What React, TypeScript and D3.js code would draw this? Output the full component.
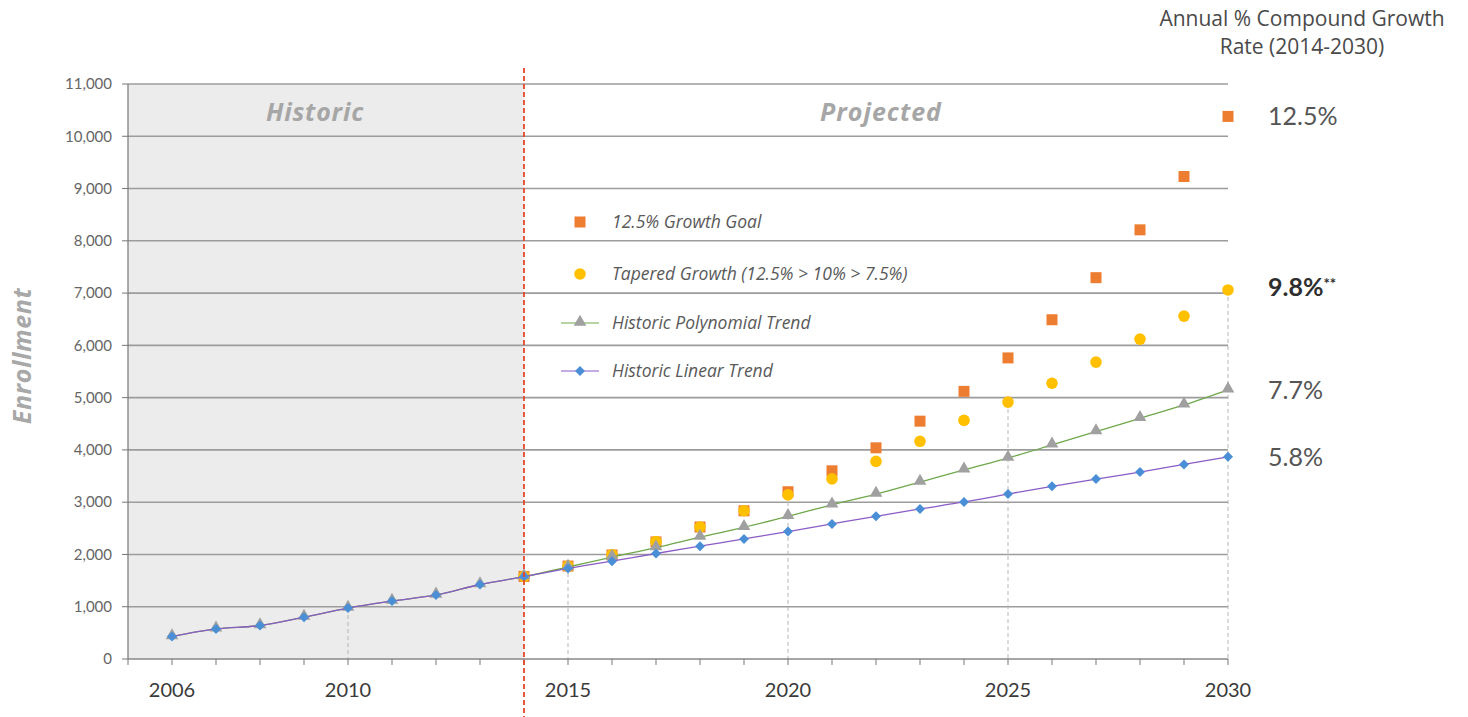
import React from 'react';
import * as d3 from 'd3';

// Historic enrollment (shared by both trend series)
const historicYears = [2006, 2007, 2008, 2009, 2010, 2011, 2012, 2013, 2014];
const historicValues = [430, 576, 640, 800, 975, 1108, 1225, 1425, 1575];

// Projected years
const projYears = [2015, 2016, 2017, 2018, 2019, 2020, 2021, 2022, 2023, 2024, 2025, 2026, 2027, 2028, 2029, 2030];
const linearValues = [1732, 1872, 2018, 2158, 2298, 2438, 2584, 2730, 2870, 3004, 3156, 3303, 3442, 3576, 3722, 3868];
const polyValues = [1760, 1950, 2130, 2330, 2520, 2730, 2950, 3155, 3385, 3620, 3845, 4095, 4350, 4605, 4860, 5150];

const growthYears = [2014, ...projYears];
const goalValues = [1580, 1778, 1990, 2240, 2525, 2835, 3200, 3600, 4040, 4550, 5120, 5760, 6490, 7295, 8210, 9230, 10380];
const taperedValues = [1580, 1778, 1995, 2245, 2525, 2835, 3140, 3445, 3780, 4165, 4565, 4915, 5275, 5680, 6120, 6560, 7060];

const yTicks = [0, 1000, 2000, 3000, 4000, 5000, 6000, 7000, 8000, 9000, 10000, 11000];
const xLabelYears = [2006, 2010, 2015, 2020, 2025, 2030];
const dropYears = [2010, 2015, 2020, 2025, 2030];
const splitYear = 2014;

const legendItems = ['12.5% Growth Goal', 'Tapered Growth (12.5% > 10% > 7.5%)', 'Historic Polynomial Trend', 'Historic Linear Trend'];
const rateLabels = ['12.5%', '9.8%', '7.7%', '5.8%'];

const W = 1468;
const H = 717;
const NUM = 'Lato, "Open Sans", sans-serif';
const WIDE = '"Open Sans", Lato, sans-serif';

const C = {
  orange: '#ED7D31',
  yellow: '#FFC000',
  tri: '#A0A0A0',
  green: '#6FA84A',
  diamond: '#4A8FD6',
  purple: '#8A5CC6',
  grid: '#9c9c9c',
  red: '#E8442A',
};

const x = d3.scaleLinear().domain([2005, 2030]).range([128, 1228]);
const y = d3.scaleLinear().domain([0, 11000]).range([659, 84]);

const toPts = (ys: number[], vs: number[]) => ys.map((yr, i) => ({ year: yr, value: vs[i] }));
const linearPts = toPts([...historicYears, ...projYears], [...historicValues, ...linearValues]);
const polyPts = toPts([...historicYears, ...projYears], [...historicValues, ...polyValues]);
const goalPts = toPts(growthYears, goalValues);
const taperedPts = toPts(growthYears, taperedValues);

const line = d3.line<{ year: number; value: number }>()
  .x(d => x(d.year))
  .y(d => y(d.value))
  .curve(d3.curveMonotoneX);

const triPath = d3.symbol().type(d3.symbolTriangle).size(70)();
const diaPath = (s: number) => `M0,${-s}L${s},0L0,${s}L${-s},0Z`;

const dropTop = (yr: number) => {
  const t = taperedPts.find(p => p.year === yr);
  if (t) return t.value;
  return linearPts.find(p => p.year === yr)!.value;
};

const Square = ({ cx, cy }: { cx: number; cy: number }) => (
  <rect x={cx - 5.5} y={cy - 5.5} width={11} height={11} fill={C.orange} />
);

const App = () => {
  const yearTicks = d3.range(2005, 2031);
  const legendY = [222, 274, 323, 371];

  return (
    <>
      <style>{`body{margin:0}`}</style>
      <svg width={W} height={H} style={{ display: 'block', background: '#fff', fontFamily: NUM }}>
        {/* historic shading */}
        <rect x={x(2005)} y={y(11000)} width={x(splitYear) - x(2005)} height={y(0) - y(11000)} fill="#ececec" />

        {/* gridlines */}
        {yTicks.filter(t => t > 0).map(t => (
          <line key={t} x1={x(2005)} x2={x(2030)} y1={y(t)} y2={y(t)} stroke={C.grid} strokeWidth={1.6} />
        ))}

        {/* drop lines */}
        {dropYears.map(yr => (
          <line key={yr} x1={x(yr)} x2={x(yr)} y1={y(dropTop(yr))} y2={y(0)}
            stroke="#b5b5b5" strokeWidth={1} strokeDasharray="4,3" />
        ))}

        {/* axes */}
        <line x1={x(2005)} x2={x(2005)} y1={y(11000)} y2={y(0)} stroke="#777" strokeWidth={1.2} />
        <line x1={x(2005)} x2={x(2030)} y1={y(0)} y2={y(0)} stroke="#888" strokeWidth={1.6} />
        {yTicks.map(t => (
          <g key={t}>
            <line x1={x(2005) - 6} x2={x(2005)} y1={y(t)} y2={y(t)} stroke="#777" strokeWidth={1} />
            <text x={112} y={y(t)} dy="0.35em" textAnchor="end" fontSize={15} fill="#666">
              {d3.format(',')(t)}
            </text>
          </g>
        ))}
        {yearTicks.map(yr => (
          <line key={yr} x1={x(yr)} x2={x(yr)} y1={y(0)} y2={y(0) + 6} stroke="#777" strokeWidth={1} />
        ))}
        {xLabelYears.map(yr => (
          <text key={yr} x={x(yr)} y={697} textAnchor="middle" fontSize={20} fill="#3a3a3a">{yr}</text>
        ))}

        <text transform="translate(31,356) rotate(-90)" textAnchor="middle" fontSize={25} fontFamily={WIDE}
          fontWeight={700} fontStyle="italic" fill="#a8a8a8" letterSpacing={0.6}>Enrollment</text>

        <text x={315} y={121} textAnchor="middle" fontSize={25} fontFamily={WIDE}
          fontWeight={700} fontStyle="italic" fill="#a6a6a6" letterSpacing={0.8}>Historic</text>
        <text x={881} y={121} textAnchor="middle" fontSize={25} fontFamily={WIDE}
          fontWeight={700} fontStyle="italic" fill="#a6a6a6" letterSpacing={1}>Projected</text>

        {/* legend */}
        <Square cx={580} cy={legendY[0]} />
        <circle cx={580} cy={legendY[1]} r={5.8} fill={C.yellow} />
        <line x1={561} x2={599} y1={legendY[2]} y2={legendY[2]} stroke={C.green} strokeWidth={1.2} />
        <path d={triPath} transform={`translate(580,${legendY[2] - 1})`} fill={C.tri} />
        <line x1={561} x2={599} y1={legendY[3]} y2={legendY[3]} stroke={C.purple} strokeWidth={1.2} />
        <path d={diaPath(5)} transform={`translate(580,${legendY[3]})`} fill={C.diamond} />
        {legendItems.map((t, i) => (
          <text key={t} x={612} y={legendY[i]} dy="0.35em" fontSize={17.5} fontFamily={WIDE}
            fontStyle="italic" fill="#595959">{t}</text>
        ))}

        {/* growth scenarios */}
        {goalPts.map(p => <Square key={p.year} cx={x(p.year)} cy={y(p.value)} />)}
        {taperedPts.map(p => (
          <circle key={p.year} cx={x(p.year)} cy={y(p.value)} r={5.8} fill={C.yellow} />
        ))}

        {/* polynomial trend */}
        <path d={line(polyPts)!} fill="none" stroke={C.green} strokeWidth={1.3} />
        {polyPts.map(p => (
          <path key={p.year} d={triPath} transform={`translate(${x(p.year)},${y(p.value) - 1})`} fill={C.tri} />
        ))}

        {/* linear trend */}
        <path d={line(linearPts)!} fill="none" stroke={C.purple} strokeWidth={1.3} />
        {linearPts.map(p => (
          <path key={p.year} d={diaPath(5)} transform={`translate(${x(p.year)},${y(p.value)})`} fill={C.diamond} />
        ))}

        {/* split marker */}
        <line x1={x(splitYear)} x2={x(splitYear)} y1={68} y2={H} stroke={C.red} strokeWidth={1.8} strokeDasharray="5,3" />

        {/* right-side rates */}
        <g fontFamily={WIDE} fontSize={21} fill="#4a4a4a" textAnchor="middle">
          <text x={1302} y={26}>Annual % Compound Growth</text>
          <text x={1302} y={54}>Rate (2014-2030)</text>
        </g>
        <text x={1268} y={y(goalValues[16])} dy="0.35em" fontSize={25} fill="#555">{rateLabels[0]}</text>
        <text x={1268} y={y(taperedValues[16]) - 3} dy="0.35em" fontSize={25} fontWeight={700} fill="#2e2e2e">
          {rateLabels[1]}<tspan fontSize={15} dy="-7">**</tspan>
        </text>
        <text x={1268} y={y(polyValues[15])} dy="0.35em" fontSize={25} fill="#555">{rateLabels[2]}</text>
        <text x={1268} y={y(linearValues[15])} dy="0.35em" fontSize={25} fill="#555">{rateLabels[3]}</text>
      </svg>
    </>
  );
};

export default App;
